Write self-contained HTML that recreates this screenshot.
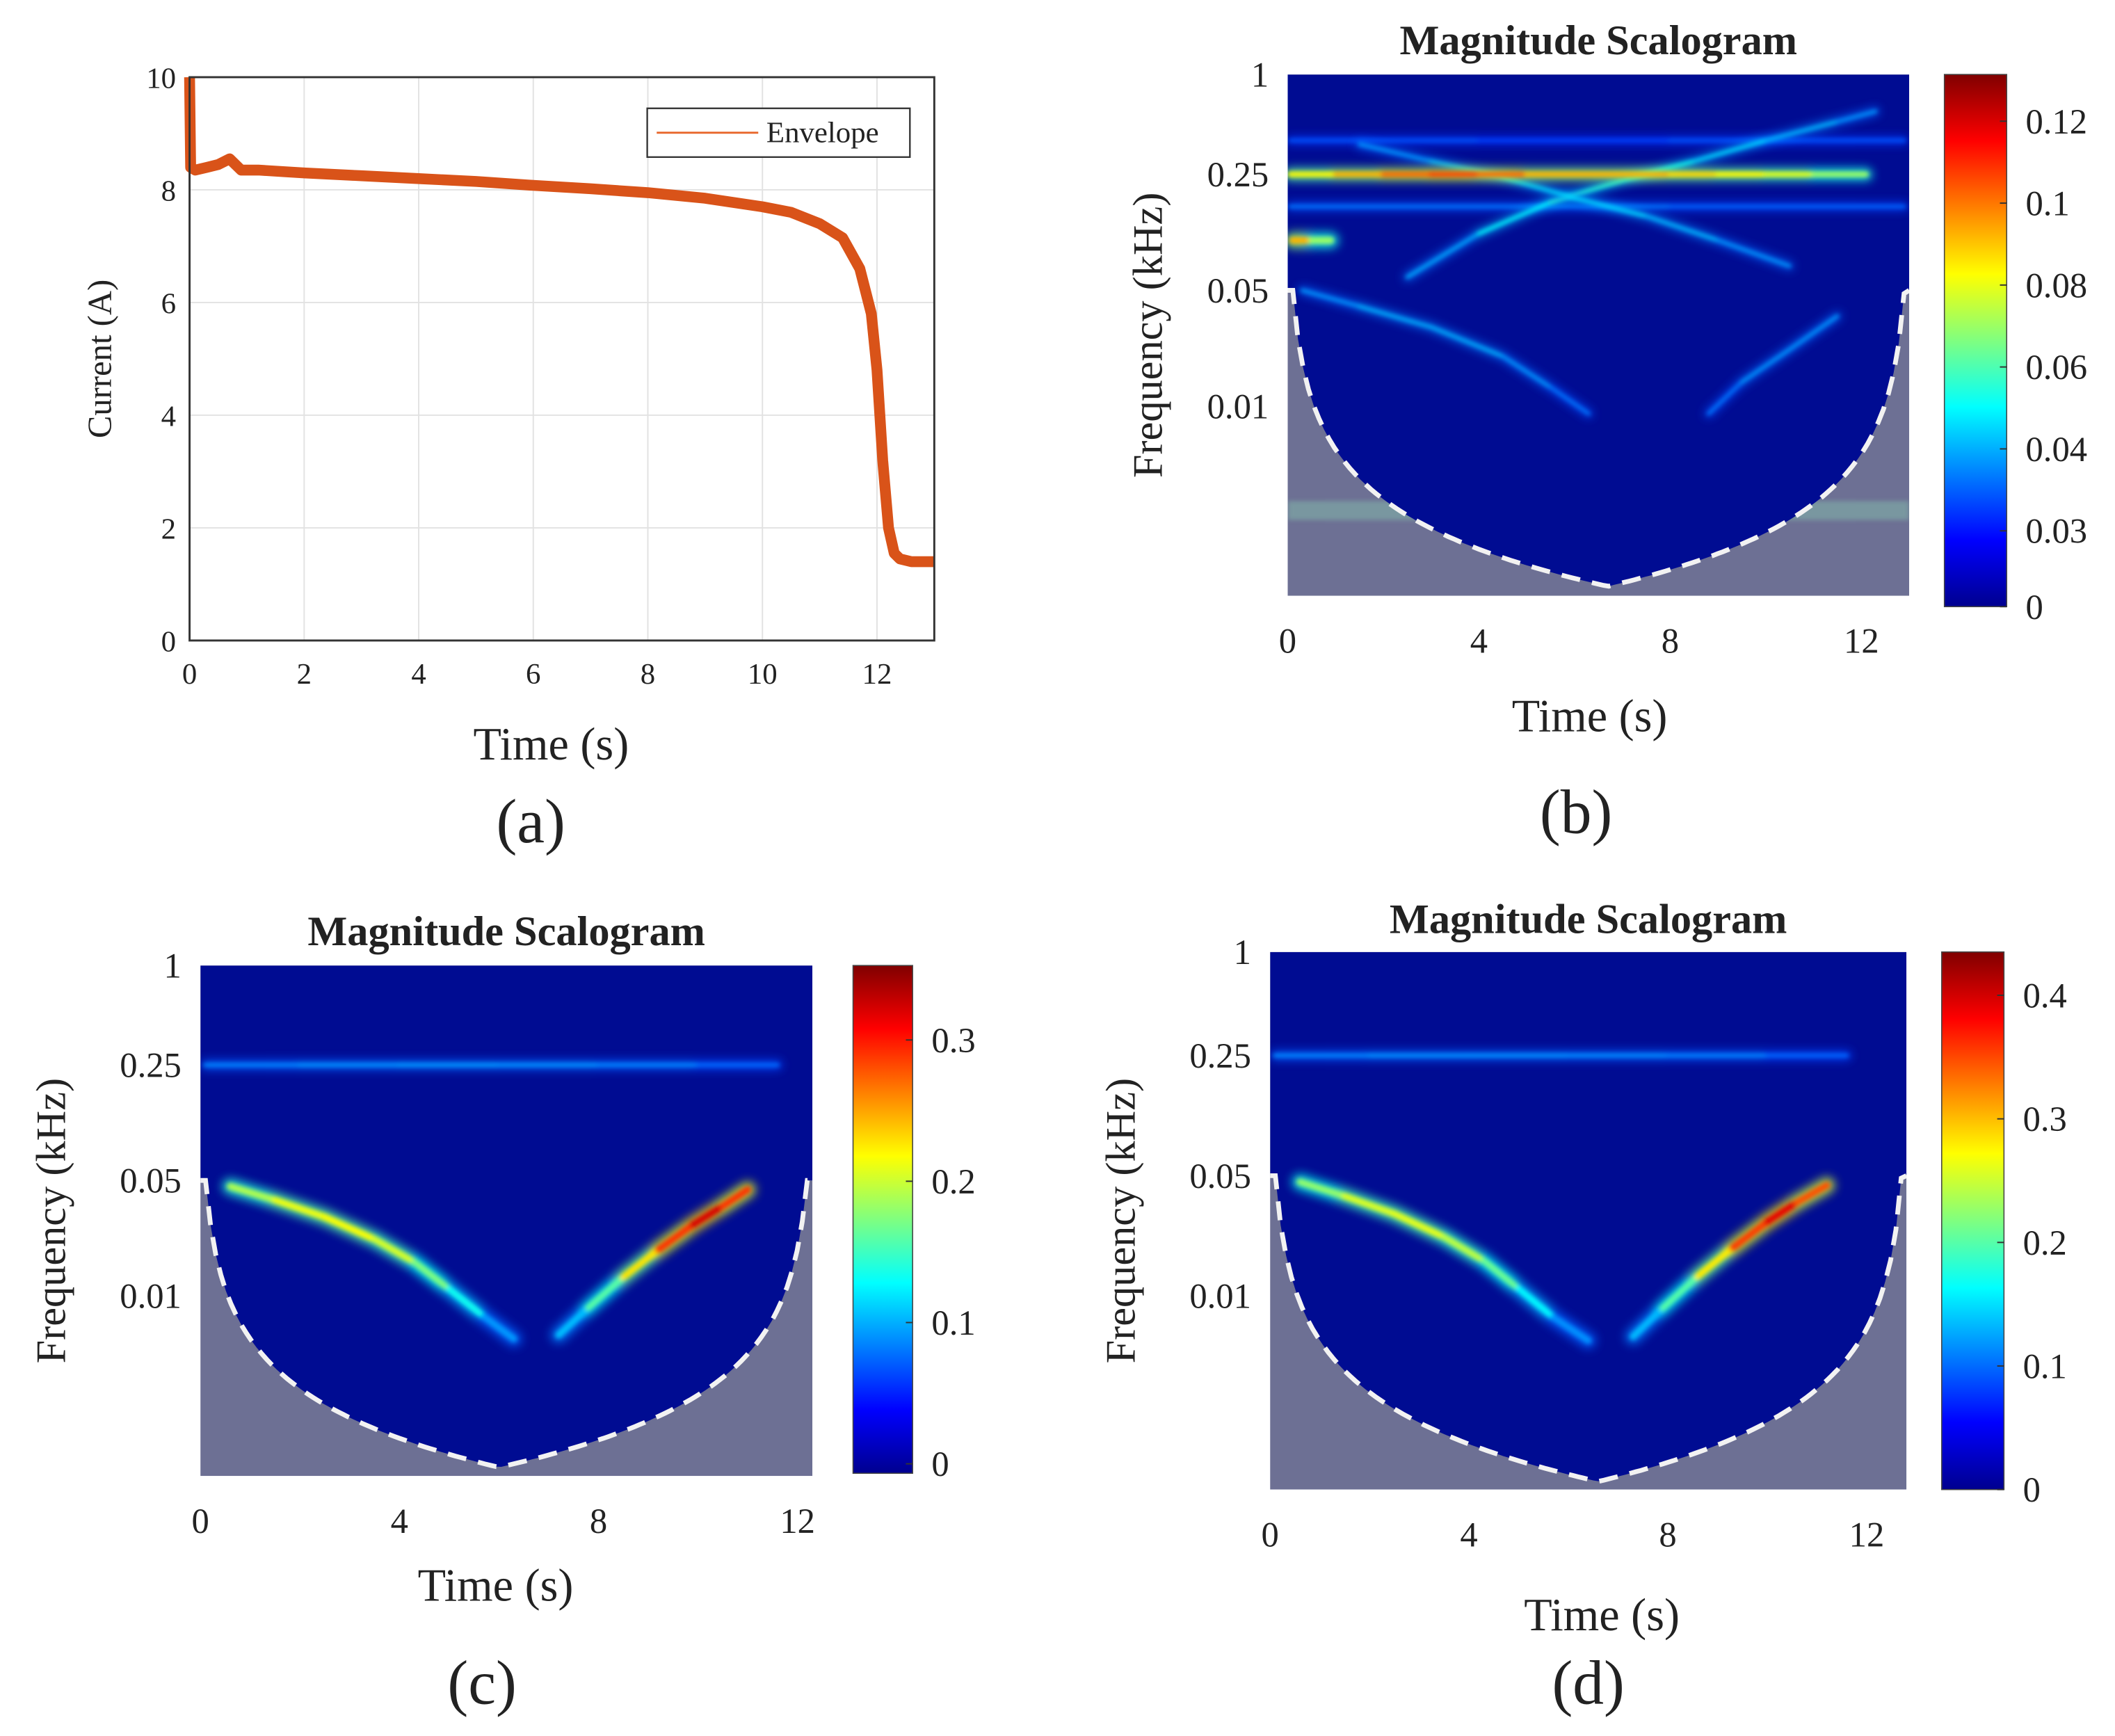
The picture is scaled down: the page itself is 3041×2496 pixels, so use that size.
<!DOCTYPE html>
<html><head><meta charset="utf-8"><title>Current envelope and magnitude scalograms</title>
<style>
html,body{margin:0;padding:0;background:#fff;}
svg{display:block;}
text{font-family:"Liberation Serif",serif;fill:#222;}
</style></head>
<body>
<svg id="fig" xmlns="http://www.w3.org/2000/svg" width="3041" height="2496" viewBox="0 0 1562 1282" preserveAspectRatio="none">
<defs>
<filter id="blur2" filterUnits="userSpaceOnUse" x="0" y="0" width="1562" height="1282"><feGaussianBlur stdDeviation="1.6"/></filter>
<filter id="blur4" filterUnits="userSpaceOnUse" x="0" y="0" width="1562" height="1282"><feGaussianBlur stdDeviation="3.5"/></filter>
<linearGradient id="jet" x1="0" y1="1" x2="0" y2="0">
<stop offset="0" stop-color="#00008f"/><stop offset="0.125" stop-color="#0000ff"/>
<stop offset="0.375" stop-color="#00ffff"/><stop offset="0.625" stop-color="#ffff00"/>
<stop offset="0.875" stop-color="#ff0000"/><stop offset="1" stop-color="#800000"/>
</linearGradient>
</defs>
</svg>
<script>
// ---------- Panel (a) data ----------
const currentTimes  = [0, 0.02, 0.1, 0.3, 0.5, 0.7, 0.9, 1.2, 2, 3, 4, 5, 6, 7, 8, 9, 10, 10.5, 11, 11.4, 11.7, 11.9, 12.0, 12.1, 12.2, 12.3, 12.4, 12.6, 13];
const currentValues = [10, 8.4, 8.35, 8.4, 8.45, 8.55, 8.35, 8.35, 8.3, 8.25, 8.2, 8.15, 8.08, 8.02, 7.95, 7.85, 7.7, 7.6, 7.4, 7.15, 6.6, 5.8, 4.8, 3.2, 2.0, 1.55, 1.45, 1.4, 1.4];
const currentXTicks = [0, 2, 4, 6, 8, 10, 12];
const currentYTicks = [0, 2, 4, 6, 8, 10];

// ---------- Scalogram data (time s, freq kHz, magnitude) ----------
const freqTickLabels = ["1", "0.25", "0.05", "0.01"];
const freqTickValues = [1, 0.25, 0.05, 0.01];
const timeTickValues = [0, 4, 8, 12];

const bCbLabels = ["0", "0.03", "0.04", "0.06", "0.08", "0.1", "0.12"];
const bRidgeT = [0.05, 1, 2, 3, 4, 5, 6, 7, 8, 9, 10, 11, 12.1];
const bRidgeF = [0.25, 0.25, 0.25, 0.25, 0.25, 0.25, 0.25, 0.25, 0.25, 0.25, 0.25, 0.25, 0.25];
const bRidgeM = [0.07, 0.08, 0.09, 0.1, 0.1, 0.09, 0.08, 0.09, 0.08, 0.08, 0.07, 0.07, 0.05];
const bLine40T = [0.05, 4, 8, 12.9];
const bLine40F = [0.4, 0.4, 0.4, 0.4];
const bLine40M = [0.015, 0.01, 0.01, 0.015];
const bLine15T = [0.05, 4, 8, 12.9];
const bLine15F = [0.16, 0.16, 0.16, 0.16];
const bLine15M = [0.015, 0.02, 0.015, 0.015];
const bArcUpT = [2.5, 4, 5.5, 7, 8.5, 10, 11.5, 12.3];
const bArcUpF = [0.06, 0.11, 0.17, 0.23, 0.3, 0.4, 0.52, 0.6];
const bArcUpM = [0.02, 0.03, 0.045, 0.04, 0.035, 0.03, 0.025, 0.02];
const bArcDnT = [1.5, 3, 4.5, 6, 7.5, 9, 10.5];
const bArcDnF = [0.38, 0.3, 0.24, 0.18, 0.14, 0.1, 0.07];
const bArcDnM = [0.02, 0.025, 0.03, 0.035, 0.03, 0.025, 0.02];
const bLowLT = [0.3, 1.5, 3, 4.5, 5.5, 6.3];
const bLowLF = [0.05, 0.04, 0.03, 0.02, 0.013, 0.009];
const bLowLM = [0.02, 0.025, 0.028, 0.025, 0.02, 0.015];
const bLowRT = [8.8, 9.5, 10.5, 11.5];
const bLowRF = [0.009, 0.014, 0.022, 0.035];
const bLowRM = [0.015, 0.02, 0.025, 0.02];
const bBlobT = [0.1, 0.5, 0.9];
const bBlobF = [0.1, 0.1, 0.1];
const bBlobM = [0.09, 0.08, 0.04];

const cCbLabels = ["0", "0.1", "0.2", "0.3"];
const cCbValues = [0, 0.1, 0.2, 0.3];
const cLeftT = [0.6, 1.5, 2.5, 3.5, 4.3, 5.0, 5.7, 6.3];
const cLeftF = [0.046, 0.038, 0.03, 0.022, 0.016, 0.011, 0.0075, 0.0055];
const cLeftM = [0.15, 0.19, 0.2, 0.2, 0.17, 0.13, 0.08, 0.04];
const cRightT = [7.2, 7.8, 8.5, 9.2, 9.9, 10.5, 11.0];
const cRightF = [0.0058, 0.0085, 0.013, 0.019, 0.027, 0.035, 0.044];
const cRightM = [0.05, 0.1, 0.17, 0.25, 0.31, 0.32, 0.24];
const cBandT = [0.1, 2, 4, 6, 8, 10, 11.6];
const cBandF = [0.25, 0.25, 0.25, 0.25, 0.25, 0.25, 0.25];
const cBandM = [0.05, 0.055, 0.06, 0.06, 0.055, 0.05, 0.035];

const dCbLabels = ["0", "0.1", "0.2", "0.3", "0.4"];
const dCbValues = [0, 0.1, 0.2, 0.3, 0.4];
const dLeftT = [0.6, 1.5, 2.5, 3.5, 4.3, 5.0, 5.7, 6.4];
const dLeftF = [0.046, 0.038, 0.03, 0.022, 0.016, 0.011, 0.0075, 0.0055];
const dLeftM = [0.17, 0.22, 0.24, 0.23, 0.2, 0.15, 0.09, 0.05];
const dRightT = [7.3, 7.9, 8.6, 9.3, 10.0, 10.6, 11.2];
const dRightF = [0.0058, 0.0085, 0.013, 0.019, 0.027, 0.035, 0.044];
const dRightM = [0.06, 0.12, 0.21, 0.3, 0.38, 0.38, 0.28];
const dBandT = [0.1, 2, 4, 6, 8, 10, 11.6];
const dBandF = [0.25, 0.25, 0.25, 0.25, 0.25, 0.25, 0.25];
const dBandM = [0.06, 0.07, 0.07, 0.07, 0.065, 0.06, 0.04];

const NS = "http://www.w3.org/2000/svg";
const svg = document.getElementById("fig");
function mk(tag, attrs, parent) {
  const e = document.createElementNS(NS, tag);
  for (const k in attrs) e.setAttribute(k, attrs[k]);
  (parent || svg).appendChild(e);
  return e;
}
function txt(s, x, y, size, parent, extra) {
  const t = mk("text", Object.assign({x: x, y: y, "font-size": size}, extra || {}), parent);
  t.textContent = s;
  return t;
}
function clamp(v){return Math.max(0, Math.min(1, v));}
function jet(v) {
  const r = clamp(1.5 - Math.abs(4*v - 3)), g = clamp(1.5 - Math.abs(4*v - 2)), b = clamp(1.5 - Math.abs(4*v - 1));
  return "rgb(" + Math.round(r*255) + "," + Math.round(g*255) + "," + Math.round(b*255) + ")";
}

// ---------- Panel (a) ----------
(function(){
  const g = mk("g", {});
  
  
  const X0 = 140, X1 = 690, Y0 = 57, Y1 = 473;
  const xs = t => X0 + t / 13 * (X1 - X0);
  const ys = v => Y1 - v / 10 * (Y1 - Y0);
  mk("rect", {x: X0, y: Y0, width: X1 - X0, height: Y1 - Y0, fill: "#fff"}, g);
  currentXTicks.forEach(t => {
    const l = mk("line", {x1: xs(t), x2: xs(t), y1: Y0, y2: Y1, stroke: "#e2e2e2", "stroke-width": 1}, g);
    
    
    const lb = txt(String(t), xs(t), Y1 + 32, 22, g, {"text-anchor": "middle"});
    
    
  });
  currentYTicks.forEach(v => {
    const l = mk("line", {x1: X0, x2: X1, y1: ys(v), y2: ys(v), stroke: "#e2e2e2", "stroke-width": 1}, g);
    
    
    const lb = txt(String(v), X0 - 10, ys(v) + 8, 22, g, {"text-anchor": "end"});
    
    
  });
  const pts = currentTimes.map((t, i) => xs(t).toFixed(1) + "," + ys(currentValues[i]).toFixed(1)).join(" ");
  const band = mk("polyline", {points: pts, fill: "none", stroke: "#d95319", "stroke-width": 8, "stroke-linejoin": "round"}, g);
  
  
  const box = mk("rect", {x: X0, y: Y0, width: X1 - X0, height: Y1 - Y0, fill: "none", stroke: "#333", "stroke-width": 1.5}, g);
  
  
  const lg = mk("g", {}, g);
  
  
  mk("rect", {x: 478, y: 80, width: 194, height: 36, fill: "#fff", stroke: "#333", "stroke-width": 1.2}, lg);
  mk("line", {x1: 485, x2: 560, y1: 98, y2: 98, stroke: "#e8662a", "stroke-width": 1.5}, lg);
  txt("Envelope", 566, 105, 22, lg);
  const yl = txt("Current (A)", 0, 0, 25, g, {"text-anchor": "middle", transform: "translate(82,265) rotate(-90)"});
  
  
  const xl = txt("Time (s)", 407, 561, 34, g, {"text-anchor": "middle"});
  
  
  const pl = txt("(a)", 392, 622, 46, g, {"text-anchor": "middle"});
  
  
})();

// ---------- Scalogram panels ----------
function scalogram(cfg) {
  const g = mk("g", {});
  
  
  const {X0, X1, Y0, Y1, T, dec, vmax} = cfg;
  const xs = t => X0 + t / T * (X1 - X0);
  const ys = f => Y0 - Math.log10(f) * dec;
  // cone of influence boundary
  const N = 120, c0 = cfg.coi, tc = cfg.tc;
  let up = [];
  for (let i = 0; i <= N; i++) {
    const t = T * i / N;
    const d = Math.max(cfg.dmin, t <= tc ? t : (T - t) * tc / (T - tc));
    const y = Math.min(Y1, Math.max(Y0, ys(c0 / Math.min(d, tc))));
    up.push(xs(t).toFixed(1) + "," + y.toFixed(1));
  }
  const clipId = "clip-" + cfg.name;
  const cp = mk("clipPath", {id: clipId}, g);
  mk("rect", {x: X0, y: Y0, width: X1 - X0, height: Y1 - Y0}, cp);
  const coiId = "coi-" + cfg.name;
  const cp2 = mk("clipPath", {id: coiId}, g);
  mk("path", {d: "M" + X0 + "," + Y0 + " L" + up.join(" L") + " L" + X1 + "," + Y0 + " Z"}, cp2);

  const plot = mk("g", {"clip-path": "url(#" + clipId + ")"}, g);
  const grayRect = mk("rect", {x: X0, y: Y0, width: X1 - X0, height: Y1 - Y0, fill: "#6d7094"}, plot);
  
  
  if (cfg.band) {
    mk("rect", {x: X0, y: cfg.band[0], width: X1 - X0, height: cfg.band[1], fill: "#7fa8a6", opacity: 0.7, filter: "url(#blur2)"}, plot);
  }
  const inner = mk("g", {"clip-path": "url(#" + coiId + ")"}, plot);
  mk("rect", {x: X0, y: Y0, width: X1 - X0, height: Y1 - Y0, fill: "#000c92"}, inner);
  const layer = mk("g", {}, inner);
  function ridge(T_, F_, M_, w, nm) {
    const rg = mk("g", {}, layer);
    
    
    const halo = mk("g", {filter: "url(#blur4)", opacity: 0.8}, rg);
    const core = mk("g", {filter: "url(#blur2)"}, rg);
    for (let i = 0; i < T_.length - 1; i++) {
      const c = jet(0.125 + 0.875 * (M_[i] + M_[i+1]) / 2 / vmax);
      const a = {x1: xs(T_[i]), y1: ys(F_[i]), x2: xs(T_[i+1]), y2: ys(F_[i+1]), "stroke-linecap": "round"};
      mk("line", Object.assign({}, a, {stroke: jet(0.12 + 0.6 * (M_[i] + M_[i+1]) / 2 / vmax), "stroke-width": w * 2.4}), halo);
      mk("line", Object.assign({}, a, {stroke: c, "stroke-width": w}), core);
    }
  }
  cfg.ridges.forEach(r => ridge(r[0], r[1], r[2], r[3], r[4]));
  const coi = mk("polyline", {points: up.join(" "), fill: "none", stroke: "#f2f2f2", "stroke-width": 3.5, "stroke-dasharray": "14 9"}, plot);
  
  
  // ticks
  freqTickValues.forEach((f, i) => {
    const lb = txt(freqTickLabels[i], X0 - 14, ys(f) + 9, 26, g, {"text-anchor": "end"});
    
    
  });
  timeTickValues.forEach(t => {
    const lb = txt(String(t), xs(t), Y1 + 42, 26, g, {"text-anchor": "middle"});
    
    
  });
  const tt = txt("Magnitude Scalogram", (X0 + X1) / 2, cfg.titleY, 31, g, {"text-anchor": "middle", "font-weight": "bold"});
  
  
  const yl = txt("Frequency (kHz)", 0, 0, 31, g, {"text-anchor": "middle", transform: "translate(" + cfg.ylX + "," + ((Y0 + Y1) / 2) + ") rotate(-90)"});
  
  
  const xl = txt("Time (s)", cfg.xlX, cfg.xlY, 34, g, {"text-anchor": "middle"});
  
  
  const pl = txt(cfg.letter, cfg.xlX - 10, cfg.letY, 46, g, {"text-anchor": "middle"});
  
  
  // colorbar
  const cb = cfg.cb;
  const cbr = mk("rect", {x: cb[0], y: cb[1], width: cb[2], height: cb[3], fill: "url(#jet)", stroke: "#444", "stroke-width": 0.8}, g);
  
  
  cfg.cbLabels.forEach((s, i) => {
    const y = cfg.cbYs(i);
    mk("line", {x1: cb[0] + cb[2] - 5, x2: cb[0] + cb[2], y1: y, y2: y, stroke: "#333", "stroke-width": 1}, g);
    const lb = txt(s, cb[0] + cb[2] + 14, y + 9, 26, g);
    
    
  });
}

scalogram({
  name: "scalogram-b", letter: "(b)", X0: 951, X1: 1410, Y0: 55, Y1: 440, T: 13, dec: 122.5, vmax: 0.13,
  coi: 0.0055, tc: 6.7, dmin: 0.11, band: [370, 14], titleY: 40, ylX: 858, xlX: 1174, xlY: 540, letY: 615,
  cb: [1436, 55, 46, 393], cbLabels: bCbLabels,
  cbYs: i => i === 0 ? 448 : 392 - (i - 1) * 60.5,
  ridges: [
    [bLine40T, bLine40F, bLine40M, 2.5, "ridge-400hz"],
    [bLine15T, bLine15F, bLine15M, 2.5, "ridge-160hz"],
    [bArcUpT, bArcUpF, bArcUpM, 2.5, "ridge-rising-arc"],
    [bArcDnT, bArcDnF, bArcDnM, 2.5, "ridge-falling-arc"],
    [bLowLT, bLowLF, bLowLM, 2.5, "ridge-low-left"],
    [bLowRT, bLowRF, bLowRM, 2.5, "ridge-low-right"],
    [bRidgeT, bRidgeF, bRidgeM, 4, "ridge-250hz"],
    [bBlobT, bBlobF, bBlobM, 5, "ridge-100hz-start"]
  ]
});
scalogram({
  name: "scalogram-c", letter: "(c)", X0: 148, X1: 600, Y0: 713, Y1: 1090, T: 12.3, dec: 122, vmax: 0.35,
  coi: 0.0055, tc: 6.0, dmin: 0.11, titleY: 698, ylX: 48, xlX: 366, xlY: 1182, letY: 1258,
  cb: [630, 713, 44, 375], cbLabels: cCbLabels,
  cbYs: i => 1081 - cCbValues[i] / 0.3 * 313,
  ridges: [
    [cBandT, cBandF, cBandM, 3, "ridge-250hz"],
    [cLeftT, cLeftF, cLeftM, 5, "ridge-left-arc"],
    [cRightT, cRightF, cRightM, 5, "ridge-right-arc"]
  ]
});
scalogram({
  name: "scalogram-d", letter: "(d)", X0: 938, X1: 1408, Y0: 703, Y1: 1100, T: 12.8, dec: 127, vmax: 0.43,
  coi: 0.0055, tc: 6.6, dmin: 0.11, titleY: 689, ylX: 838, xlX: 1183, xlY: 1204, letY: 1258,
  cb: [1434, 703, 46, 397], cbLabels: dCbLabels,
  cbYs: i => 1100 - dCbValues[i] / 0.4 * 365,
  ridges: [
    [dBandT, dBandF, dBandM, 3, "ridge-250hz"],
    [dLeftT, dLeftF, dLeftM, 5, "ridge-left-arc"],
    [dRightT, dRightF, dRightM, 5, "ridge-right-arc"]
  ]
});
</script>
</body></html>
